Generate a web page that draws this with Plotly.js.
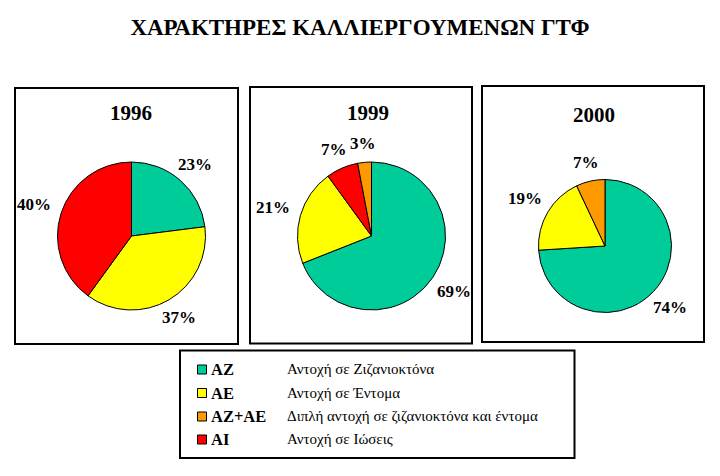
<!DOCTYPE html>
<html>
<head>
<meta charset="utf-8">
<script src="https://cdn.plot.ly/plotly-3.0.1.min.js"></script>
<style>
html,body{margin:0;padding:0;background:#fff;}
#chart{width:720px;height:476px;}
</style>
</head>
<body>
<div id="chart"></div>
<script>
// ---- data ----
const chartTitle = 'ΧΑΡΑΚΤΗΡΕΣ ΚΑΛΛΙΕΡΓΟΥΜΕΝΩΝ ΓΤΦ';
const years = ['1996', '1999', '2000'];
const labels1996 = ['AZ', 'AE', 'AI'];
const values1996 = [23, 37, 40];
const labels1999 = ['AZ', 'AE', 'AI', 'AZ+AE'];
const values1999 = [69, 21, 7, 3];
const labels2000 = ['AZ', 'AE', 'AZ+AE'];
const values2000 = [74, 19, 7];
const legendCodes = ['AZ', 'AE', 'AZ+AE', 'AI'];
const legendDescriptions = [
  'Αντοχή σε Ζιζανιοκτόνα',
  'Αντοχή σε Έντομα',
  'Διπλή αντοχή σε ζιζανιοκτόνα και έντομα',
  'Αντοχή σε Ιώσεις'
];
const colorMap = {'AZ': '#00CC99', 'AE': '#FFFF00', 'AZ+AE': '#FF9900', 'AI': '#FF0000'};

// ---- layout helpers (pixel -> paper) ----
const W = 720, H = 476;
const px = x => x / W;
const py = y => 1 - y / H;
function domainFor(cx, cy, r) {
  return {x: [px(cx - r), px(cx + r)], y: [py(cy + r), py(cy - r)]};
}

const fontFam = 'Liberation Serif';
const pieGeom = [
  {cx: 131.5, cy: 236, r: 74},
  {cx: 371.5, cy: 236, r: 74},
  {cx: 605, cy: 246, r: 66.5}
];
const pieLabels = [labels1996, labels1999, labels2000];
const pieValues = [values1996, values1999, values2000];

const traces = pieLabels.map((lab, i) => ({
  type: 'pie',
  labels: lab,
  values: pieValues[i],
  sort: false,
  direction: 'clockwise',
  rotation: 0,
  domain: domainFor(pieGeom[i].cx, pieGeom[i].cy, pieGeom[i].r),
  marker: {colors: lab.map(l => colorMap[l]), line: {color: '#000', width: 1}},
  textinfo: 'none',
  hoverinfo: 'label+percent',
  showlegend: false
}));

const annotations = [];

// percentage labels placed outside each slice, derived from the values
const labelFont = {family: fontFam, size: 17, color: '#000', weight: 'bold'};
pieValues.forEach((vals, i) => {
  const total = vals.reduce((a, b) => a + b, 0);
  const g = pieGeom[i];
  let cum = 0;
  vals.forEach(v => {
    const pct = Math.round(100 * v / total);
    const txt = pct + '%';
    const frac = (cum + v / 2) / total;
    cum += v;
    const th = 2 * Math.PI * frac;
    const s = Math.sin(th), c = Math.cos(th);
    const hw = (String(pct).length * 8.5 + 17) / 2, hh = 8;
    const edge = Math.min(Math.abs(s) > 1e-6 ? hw / Math.abs(s) : 1e9, Math.abs(c) > 1e-6 ? hh / Math.abs(c) : 1e9);
    const d = g.r + 11 + edge;
    annotations.push({
      text: txt, xref: 'paper', yref: 'paper',
      x: px(g.cx + d * s), y: py(g.cy - d * c),
      xanchor: 'center', yanchor: 'middle', showarrow: false, font: labelFont
    });
  });
});

const boxes = [
  [15, 88, 238, 344],
  [250, 87, 472, 343.5],
  [482, 86, 704, 342],
  [180, 350.5, 574.5, 458]
];
const shapes = boxes.map(b => ({
  type: 'rect', xref: 'paper', yref: 'paper',
  x0: px(b[0]), x1: px(b[2]), y0: py(b[3]), y1: py(b[1]),
  line: {color: '#000', width: 2}, fillcolor: 'rgba(0,0,0,0)'
}));

const yearPos = [[131, 113], [368, 113], [594, 115]];
years.forEach((y, i) => annotations.push({
  text: y, xref: 'paper', yref: 'paper', x: px(yearPos[i][0]), y: py(yearPos[i][1]),
  xanchor: 'center', yanchor: 'middle', showarrow: false,
  font: {family: fontFam, size: 21, color: '#000', weight: 'bold'}
}));

const rowY = [369.5, 393, 416.5, 439.5];
legendCodes.forEach((code, i) => {
  shapes.push({
    type: 'rect', xref: 'paper', yref: 'paper',
    x0: px(197.5), x1: px(206.5), y0: py(rowY[i] + 4.5), y1: py(rowY[i] - 4.5),
    line: {color: '#000', width: 1}, fillcolor: colorMap[code]
  });
  annotations.push({
    text: code, xref: 'paper', yref: 'paper', x: px(209), y: py(rowY[i]),
    xanchor: 'left', yanchor: 'middle', showarrow: false,
    font: {family: fontFam, size: 16.5, color: '#000', weight: 'bold'}
  });
  annotations.push({
    text: legendDescriptions[i], xref: 'paper', yref: 'paper', x: px(285), y: py(rowY[i] - 0.5),
    xanchor: 'left', yanchor: 'middle', showarrow: false,
    font: {family: fontFam, size: 15, color: '#000'}
  });
});

const layout = {
  width: W, height: H,
  margin: {l: 0, r: 0, t: 0, b: 0},
  paper_bgcolor: '#fff',
  xaxis: {visible: false}, yaxis: {visible: false},
  showlegend: false,
  title: {
    text: chartTitle, x: 0.5, xanchor: 'center', y: py(27), yanchor: 'middle',
    font: {family: fontFam, size: 23, color: '#000', weight: 'bold'}
  },
  shapes: shapes,
  annotations: annotations
};

Plotly.newPlot('chart', traces, layout, {staticPlot: true});
</script>
</body>
</html>
